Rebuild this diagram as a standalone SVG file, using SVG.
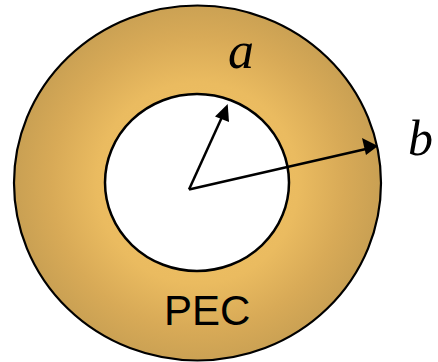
<svg xmlns="http://www.w3.org/2000/svg" width="438" height="362" viewBox="0 0 438 362">
<defs>
<radialGradient id="ring" gradientUnits="userSpaceOnUse" cx="197.5" cy="183" r="183">
<stop offset="0" stop-color="#F2C364"/>
<stop offset="0.55" stop-color="#EABB60"/>
<stop offset="0.8" stop-color="#D8AA57"/>
<stop offset="1" stop-color="#C9A053"/>
</radialGradient>
<style>
.edge{stroke:#000;stroke-width:2.5;fill:none}
.head{fill:#000}
.lbl{font-family:"Liberation Serif",serif;font-style:italic;font-size:52px;fill:#000}
.pec{font-family:"Liberation Sans",Arial,sans-serif;font-size:42px;fill:#000}
</style>
</defs>
<g id="outer">
<ellipse cx="197.5" cy="183" rx="183.5" ry="177.5" fill="url(#ring)" stroke="#000" stroke-width="2.2"/>
</g>
<g id="inner">
<ellipse cx="197" cy="182.5" rx="92" ry="88.5" fill="#fff" stroke="#000" stroke-width="2.5"/>
</g>
<g id="connectors">
<line class="edge" x1="189" y1="189.5" x2="222" y2="117" />
<path class="head" d="M227.7,104 L229,122 L215,116.5 z"/>
<line class="edge" x1="189" y1="189.5" x2="366" y2="149" />
<path class="head" d="M378,146 L362,138 L366,155 z"/>
</g>
<g id="label-a"><text class="lbl" x="228" y="68">a</text></g>
<g id="label-b"><text class="lbl" x="408" y="155" style="font-size:50px">b</text></g>
<g id="label-pec"><text class="pec" x="164" y="325">PEC</text></g>
</svg>
